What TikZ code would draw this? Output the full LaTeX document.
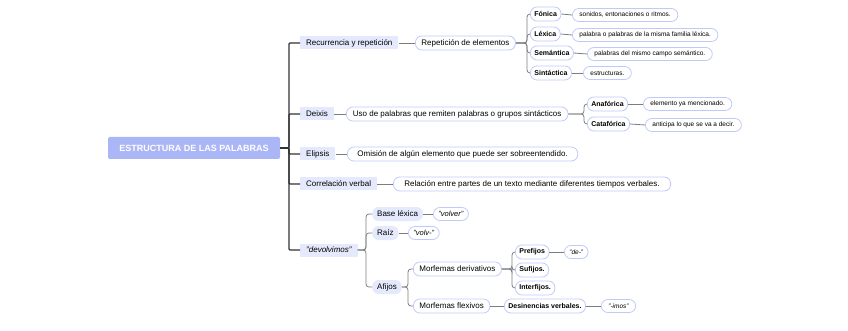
\documentclass[tikz,border=0pt]{standalone}
\usepackage{fontspec}
\setmainfont{Liberation Sans}
\usetikzlibrary{calc}
\definecolor{rootc}{RGB}{170,182,246}
\definecolor{lvl}{RGB}{229,233,252}
\definecolor{pillb}{RGB}{192,202,250}
\definecolor{darkl}{RGB}{50,50,50}
\definecolor{grayl}{RGB}{125,125,125}
\begin{document}
\begin{tikzpicture}[x=1pt,y=-1pt,
 rootbox/.style={fill=rootc, text=white, font=\fontsize{9}{10}\selectfont\bfseries, rounded corners=2pt, minimum width=172pt, minimum height=22pt, inner sep=0pt},
 lvbox/.style={fill=lvl, font=\fontsize{8}{9}\selectfont, minimum height=13pt, inner xsep=6pt, inner ysep=0pt, anchor=west},
 pill/.style={draw=pillb, fill=white, line width=0.8pt, rounded corners=6.5pt, font=\fontsize{8}{9}\selectfont, minimum height=14pt, inner xsep=6pt, inner ysep=0pt, anchor=west},
 bpill/.style={pill, font=\fontsize{7}{8}\selectfont\bfseries, inner xsep=4pt},
 leaf/.style={pill, font=\fontsize{6.5}{7}\selectfont, minimum height=13pt, inner xsep=7pt},
 ileaf/.style={leaf, font=\fontsize{7.5}{8}\selectfont\itshape, inner xsep=5pt},
 lvpill/.style={lvbox, rounded corners=6.5pt, inner xsep=5pt, minimum height=14pt},
 mainl/.style={draw=darkl, line width=1.3pt, rounded corners=1pt},
 subl/.style={draw=grayl, line width=0.8pt, rounded corners=3pt},
]
\useasboundingbox (0,0) rectangle (848,331);

% root
\node[rootbox] (root) at (194,148) {ESTRUCTURA DE LAS PALABRAS};

% level 1
\node[lvbox] (rec) at (300,43) {Recurrencia y repetición};
\node[lvbox] (dei) at (300,114) {Deixis};
\node[lvbox] (eli) at (300,154) {Elipsis};
\node[lvbox] (cor) at (300,184) {Correlación verbal};
\node[lvbox, font=\fontsize{8}{9}\selectfont\itshape] (dev) at (300,250) {"devolvimos"};

\coordinate (t0) at (289,0);
\foreach \n in {rec,dei,eli,cor,dev}
  \draw[mainl] (root.east) -- (root.east -| t0) |- (\n.west);

% level 2
\node[pill] (rep) at (415,43) {Repetición de elementos};
\node[pill, inner xsep=6.5pt] (uso) at (346,114) {Uso de palabras que remiten palabras o grupos sintácticos};
\node[pill, inner xsep=10pt] (omi) at (347,154) {Omisión de algún elemento que puede ser sobreentendido.};
\node[pill, inner xsep=11pt] (rel) at (393,184) {Relación entre partes de un texto mediante diferentes tiempos verbales.};
\draw[subl] (rec.east) -- (rep.west);
\draw[subl] (dei.east) -- (uso.west);
\draw[subl] (eli.east) -- (omi.west);
\draw[subl] (cor.east) -- (rel.west);

% Repeticion children
\node[bpill] (fon) at (530,14) {Fónica};
\node[bpill] (lex) at (530,34) {Léxica};
\node[bpill] (sem) at (530,53) {Semántica};
\node[bpill] (sin) at (530,73) {Sintáctica};
\coordinate (b1) at (527,0);
\foreach \n in {fon,lex,sem,sin}
  \draw[subl] (rep.east) -- (rep.east -| b1) |- (\n.west);
\node[leaf] (son) at (572,15) {sonidos, entonaciones o ritmos.};
\node[leaf] (pal) at (572,35) {palabra o palabras de la misma familia léxica.};
\node[leaf] (cam) at (587,54) {palabras del mismo campo semántico.};
\node[leaf] (est) at (583,73) {estructuras.};
\draw[subl] (fon.east) -- (son.west);
\draw[subl] (lex.east) -- (pal.west);
\draw[subl] (sem.east) -- (cam.west);
\draw[subl] (sin.east) -- (est.west);

% Uso children
\node[bpill] (ana) at (587,104) {Anafórica};
\node[bpill] (cat) at (587,124) {Catafórica};
\coordinate (b2) at (584,0);
\foreach \n in {ana,cat}
  \draw[subl] (uso.east) -- (uso.east -| b2) |- (\n.west);
\node[leaf] (ele) at (643,104) {elemento ya mencionado.};
\node[leaf] (ant) at (645,125) {anticipa lo que se va a decir.};
\draw[subl] (ana.east) -- (ele.west);
\draw[subl] (cat.east) -- (ant.west);

% devolvimos children
\node[lvpill] (bas) at (372,214) {Base léxica};
\node[lvpill] (rai) at (372,233) {Raíz};
\node[lvpill] (afi) at (372,287) {Afijos};
\coordinate (b3) at (366,0);
\foreach \n in {bas,rai,afi}
  \draw[subl] (dev.east) -- (dev.east -| b3) |- (\n.west);
\node[ileaf] (vol) at (433,214) {"volver"};
\node[ileaf] (vlv) at (408,233) {"volv-"};
\draw[subl] (bas.east) -- (vol.west);
\draw[subl] (rai.east) -- (vlv.west);

% Afijos children
\node[pill] (mde) at (413,269) {Morfemas derivativos};
\node[pill] (mfl) at (413,306) {Morfemas flexivos};
\coordinate (b4) at (408,0);
\foreach \n in {mde,mfl}
  \draw[subl] (afi.east) -- (afi.east -| b4) |- (\n.west);

% Morfemas derivativos children
\node[bpill] (pre) at (515,252) {Prefijos};
\node[bpill] (suf) at (515,270) {Sufijos.};
\node[bpill] (int) at (515,288) {Interfijos.};
\coordinate (b5) at (512,0);
\foreach \n in {pre,suf,int}
  \draw[subl] (mde.east) -- (mde.east -| b5) |- (\n.west);
\node[ileaf, font=\fontsize{6.5}{7}\selectfont\itshape] (dee) at (564,252) {"de-"};
\draw[subl] (pre.east) -- (dee.west);

% Morfemas flexivos children
\node[bpill] (des) at (504,306) {Desinencias verbales.};
\node[ileaf, font=\fontsize{6.5}{7}\selectfont\itshape, inner xsep=7pt] (imo) at (601,306) {"-imos"};
\draw[subl] (mfl.east) -- (des.west);
\draw[subl] (des.east) -- (imo.west);
\end{tikzpicture}
\end{document}
